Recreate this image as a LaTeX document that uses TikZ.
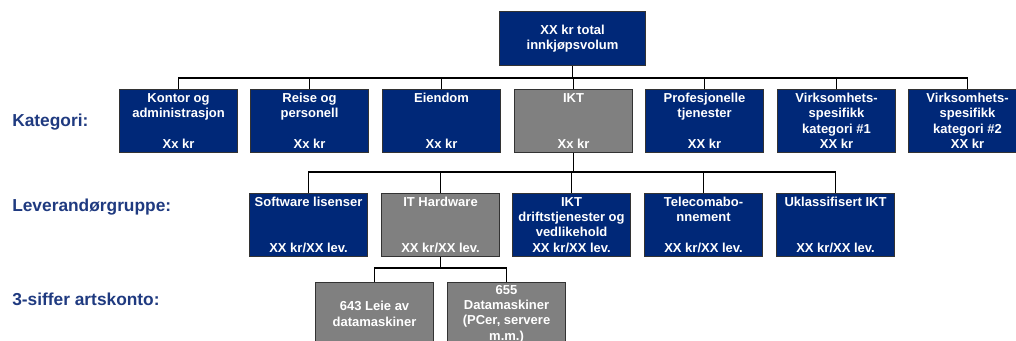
\documentclass[tikz,border=0pt]{standalone}
\usepackage{fontspec}
\setmainfont{Liberation Sans}
\definecolor{navy}{HTML}{002878}
\definecolor{boxgray}{HTML}{808080}
\definecolor{labelblue}{HTML}{1F3A80}
\definecolor{edgegray}{HTML}{333333}
\tikzset{
  orgbox/.style={draw=edgegray, line width=0.8pt, fill=navy, text=white, font=\bfseries\fontsize{9.75}{11.5}\selectfont,
    align=center, inner sep=0pt, anchor=north west, minimum width=88.5pt, minimum height=47pt},
  graybox/.style={orgbox, fill=boxgray},
  rowlabel/.style={text=labelblue, font=\bfseries\fontsize{13}{15}\selectfont, anchor=west, inner sep=0pt},
  conn/.style={draw=black, line width=0.8pt},
  trunk/.style={draw=black, line width=1.3pt}
}
\begin{document}
\begin{tikzpicture}[x=0.75pt, y=-0.75pt]
\useasboundingbox (0,0) rectangle (1016,340);
\clip (0,0) rectangle (1016,340);
% top
\node[orgbox, minimum width=109.5pt, minimum height=40.5pt] (top) at (499,11) {XX kr total\\innkjøpsvolum};
% labels
\node[rowlabel] (lk) at (12,122) {Kategori:};
\node[rowlabel] (ll) at (12,207) {Leverandørgruppe:};
\node[rowlabel] (la) at (12,299) {3-siffer artskonto:};
% categories
\node[orgbox] (c1) at (119,89) {Kontor og\\administrasjon\\~\\Xx kr};
\node[orgbox] (c2) at (250,89) {Reise og\\personell\\~\\Xx kr};
\node[orgbox] (c3) at (382,89) {Eiendom\\~\\~\\Xx kr};
\node[graybox] (c4) at (514,89) {IKT\\~\\~\\Xx kr};
\node[orgbox] (c5) at (645,89) {Profesjonelle\\tjenester\\~\\XX kr};
\node[orgbox] (c6) at (777,89) {Virksomhets-\\spesifikk\\kategori \#1\\XX kr};
\node[orgbox] (c7) at (908,89) {Virksomhets-\\spesifikk\\kategori \#2\\XX kr};
% suppliers
\node[orgbox] (s1) at (249,193) {Software lisenser\\~\\~\\XX kr/XX lev.};
\node[graybox] (s2) at (381,193) {IT Hardware\\~\\~\\XX kr/XX lev.};
\node[orgbox] (s3) at (512,193) {IKT\\driftstjenester og\\vedlikehold\\XX kr/XX lev.};
\node[orgbox] (s4) at (644,193) {Telecomabo-\\nnement\\~\\XX kr/XX lev.};
\node[orgbox] (s5) at (776,193) {Uklassifisert IKT\\~\\~\\XX kr/XX lev.};
% accounts
\node[graybox] (a1) at (315,282) {643 Leie av\\datamaskiner};
\node[graybox] (a2) at (447,282) {655\\Datamaskiner\\(PCer, servere\\m.m.)};
% buses
\coordinate (busA) at (0,78);
\coordinate (busB) at (0,172);
\coordinate (busC) at (0,268);
\draw[trunk] (top.south) -- (top.south |- busA);
\foreach \n in {c1,c2,c3,c4,c5,c6,c7}
  \draw[conn] (top.south |- busA) -| (\n.north);
\draw[trunk] (c4.south) -- (c4.south |- busB);
\foreach \n in {s1,s2,s3,s4,s5}
  \draw[conn] (c4.south |- busB) -| (\n.north);
\draw[conn] (s2.south) -- (s2.south |- busC);
\foreach \n in {a1,a2}
  \draw[conn] (s2.south |- busC) -| (\n.north);
\end{tikzpicture}
\end{document}
